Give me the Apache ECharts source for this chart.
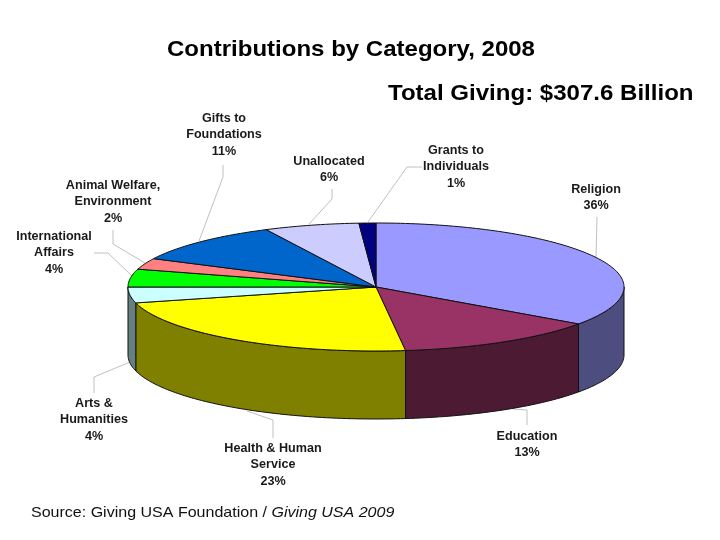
<!DOCTYPE html>
<html>
<head>
<meta charset="utf-8">
<style>html,body{margin:0;padding:0;background:#fff}#c{width:720px;height:540px}</style>
<script src="https://cdn.jsdelivr.net/npm/echarts@6/dist/echarts.min.js"></script>
</head>
<body>
<div id="c"></div>
<script>
// Data, clockwise from 12 o'clock
var categories = ['Religion','Education','Health & Human Service','Arts & Humanities','International Affairs','Animal Welfare, Environment','Gifts to Foundations','Unallocated','Grants to Individuals'];
// slice sizes as drawn in the picture (percent of the circle)
var sliceShares = [34.8,13.3,22.9,4.0,4.5,2.8,10.4,6.2,1.1];
// percentages printed on the labels
var labelPercents = ['36%','13%','23%','4%','4%','2%','11%','6%','1%'];
var labelLines = [['Religion'],['Education'],['Health & Human','Service'],['Arts &','Humanities'],['International','Affairs'],['Animal Welfare,','Environment'],['Gifts to','Foundations'],['Unallocated'],['Grants to','Individuals']];

// Styles and layout
var topColors = ['#9999ff','#993366','#ffff00','#ccffff','#00ff00','#ff8080','#0066cc','#ccccff','#000080'];
var sideColors = ['#4d4d80','#4d1a33','#808000','#668080','#008000','#804040','#003366','#666680','#000040'];
var labelAnchors = [[596,181],[527,428],[273,440],[94,395],[54,228],[113,177],[224,110],[329,153],[456,142]];
var leaders = [
  [[597,217],[596,258]],[[527,425],[527,410],[513,409]],[[273,438],[273,420],[247,411]],[[94,393],[94,377],[130,362]],
  [[94,253],[108,253],[132,276]],[[113,230],[113,244],[145,263]],[[223,165],[223,177],[199,241]],[[332,189],[332,199],[309,224]],[[422,167],[407,167],[368,222]]
];
var chartDepth = 68;
var outline = '#111111';

function pointsOn(api, a0, a1){
  var pts = [], n = Math.max(2, Math.ceil((a1 - a0) / 0.02));
  for (var i = 0; i <= n; i++) {
    var a = a0 + (a1 - a0) * i / n;
    pts.push(api.coord([Math.sin(a), Math.cos(a)]));
  }
  return pts;
}
function sliceRange(idx){
  var total = sliceShares.reduce(function(s,v){return s+v;},0), before = 0;
  for (var i = 0; i < idx; i++) before += sliceShares[i];
  return [before/total*2*Math.PI, (before+sliceShares[idx])/total*2*Math.PI];
}
function renderSide(params, api){
  var r = sliceRange(api.value(0));
  var a0 = Math.max(r[0], Math.PI/2), a1 = Math.min(r[1], 3*Math.PI/2);
  if (a1 <= a0) return null;
  var topEdge = pointsOn(api, a0, a1);
  var lowEdge = topEdge.map(function(p){return [p[0], p[1]+chartDepth];}).reverse();
  return {type:'polygon', shape:{points:topEdge.concat(lowEdge)},
    style:{fill:sideColors[params.dataIndex], stroke:outline, lineWidth:1}};
}
function renderTop(params, api){
  var r = sliceRange(api.value(0));
  var pts = [api.coord([0,0])].concat(pointsOn(api, r[0], r[1]));
  return {type:'polygon', shape:{points:pts},
    style:{fill:topColors[params.dataIndex], stroke:outline, lineWidth:1, lineJoin:'round'}};
}

var labelFont = 'bold 12px "Liberation Sans", Arial, sans-serif';
var titleFont = 'bold 22px "Liberation Sans", Arial, sans-serif';
var graphics = [];
leaders.forEach(function(l){
  graphics.push({type:'polyline', z:1, shape:{points:l}, style:{stroke:'#c0c0c0', lineWidth:1, fill:null}});
});
categories.forEach(function(c, i){
  var lines = labelLines[i].concat([labelPercents[i]]);
  graphics.push({type:'text', z:5, x:labelAnchors[i][0], y:labelAnchors[i][1], scaleX:1.05,
    style:{text:lines.join('\n'), font:labelFont, fill:'#1a1a1a', align:'center', verticalAlign:'top', lineHeight:16.5}});
});
graphics.push(
  {type:'text', z:5, x:167, y:39, scaleX:1.092, style:{text:'Contributions by Category, 2008', font:titleFont, fill:'#000'}},
  {type:'text', z:5, x:388, y:83, scaleX:1.093, style:{text:'Total Giving: $307.6 Billion', font:titleFont, fill:'#000'}},
  {type:'text', z:5, x:31, y:505, scaleX:1.068, style:{
    text:'{n|Source: Giving USA Foundation / }{i|Giving USA 2009}',
    rich:{n:{font:'15px "Liberation Sans", Arial, sans-serif', fill:'#111'}, i:{font:'italic 15px "Liberation Sans", Arial, sans-serif', fill:'#111'}}}}
);

var rows = categories.map(function(c,i){return [i, sliceShares[i], c];});
var chart = echarts.init(document.getElementById('c'), null, {renderer:'canvas'});
chart.setOption({
  animation:false,
  backgroundColor:'#fff',
  grid:{left:128, top:223, width:496, height:128},
  xAxis:{type:'value', min:-1, max:1, show:false},
  yAxis:{type:'value', min:-1, max:1, show:false},
  series:[
    {type:'custom', name:'Sides', z:2, coordinateSystem:'cartesian2d', renderItem:renderSide, data:rows, encode:{x:-1,y:-1}, silent:true},
    {type:'custom', name:'Contributions', z:3, coordinateSystem:'cartesian2d', renderItem:renderTop, data:rows, encode:{x:-1,y:-1}, silent:true}
  ],
  graphic:graphics
});
</script>
</body>
</html>
